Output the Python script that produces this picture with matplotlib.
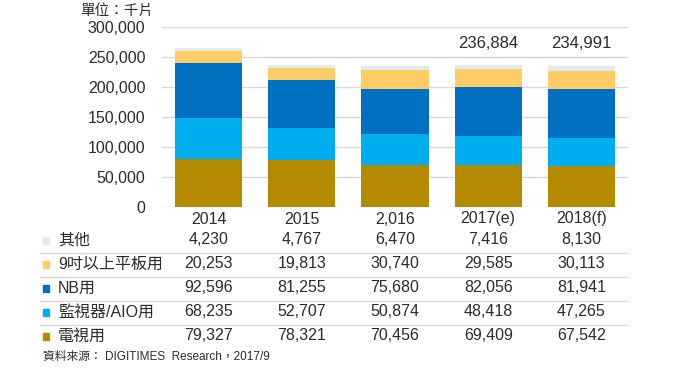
import numpy as np
import matplotlib
matplotlib.use("Agg")
import matplotlib.pyplot as plt
import matplotlib.transforms as mtrans

plt.rcParams['font.family'] = ['Liberation Sans', 'Noto Sans CJK TC']

years = ['2014', '2015', '2,016', '2017(e)', '2018(f)']
tv = [79327, 78321, 70456, 69409, 67542]
monitor = [68235, 52707, 50874, 48418, 47265]
nb = [92596, 81255, 75680, 82056, 81941]
tablet = [20253, 19813, 30740, 29585, 30113]
other = [4230, 4767, 6470, 7416, 8130]
totals_shown = {3: '236,884', 4: '234,991'}

series = [('電視用', tv, '#B38A00'),
          ('監視器/AIO用', monitor, '#00AEEF'),
          ('NB用', nb, '#0070C0'),
          ('9吋以上平板用', tablet, '#FFCC66'),
          ('其他', other, '#E4EBF0')]

txt = '#2b2b2b'
fig = plt.figure(figsize=(6.8, 3.83), dpi=100)
ax = fig.add_axes([162/680, 1-207/383, 466/680, 180/383])

x = np.arange(len(years))
bottom = np.zeros(len(years))
for name, vals, col in series:
    ax.bar(x, vals, bottom=bottom, width=0.72, color=col, zorder=3)
    bottom += np.array(vals)

# figure-y / data-x transform for everything under and above the bars
tr = mtrans.blended_transform_factory(ax.transData, fig.transFigure)
fy = lambda py: 1 - py/383

for i, s in totals_shown.items():
    ax.text(x[i], fy(44), s, transform=tr, ha='center', va='center', fontsize=12, color=txt)

ax.set_xlim(-0.5, 4.5)
ax.set_ylim(0, 300000)
ax.set_yticks(range(0, 300001, 50000))
ax.set_yticklabels([f'{v:,}' for v in range(0, 300001, 50000)], fontsize=11.5, color=txt)
ax.set_xticks([])
ax.tick_params(axis='y', length=0, pad=12)
ax.grid(axis='y', color='#D9D9D9', lw=1, zorder=0)
for sp in ax.spines.values():
    sp.set_visible(False)

fig.text(80/680, fy(11), '單位：千片', fontsize=10.5, color=txt, va='center', ha='left')

# data table
for i, y in enumerate(years):
    ax.text(x[i], fy(219), y, transform=tr, ha='center', va='center', fontsize=11.5, color=txt, clip_on=False)

row_y = [240, 264, 288, 312, 336]
for (name, vals, col), ry in zip(series[::-1], row_y):
    fig.text(58/680, fy(ry), name, fontsize=11.5, color=txt, va='center', ha='left')
    fig.patches.append(plt.Rectangle((43/680, fy(ry) - 3.5/383), 6/680, 7/383,
                                     color=col, transform=fig.transFigure, figure=fig))
    for i, v in enumerate(vals):
        ax.text(x[i], fy(ry), f'{v:,}', transform=tr, ha='center', va='center',
                fontsize=11.5, color=txt, clip_on=False)

for ly in [253, 277, 301, 325]:
    fig.add_artist(plt.Line2D([40/680, 627/680], [fy(ly), fy(ly)], color='#D9D9D9', lw=1,
                              transform=fig.transFigure))

fig.text(43/680, fy(357), '資料來源： DIGITIMES  Research，2017/9', fontsize=8.5, color=txt,
         va='center', ha='left')

fig.savefig('out.png', dpi=100, facecolor='white')
